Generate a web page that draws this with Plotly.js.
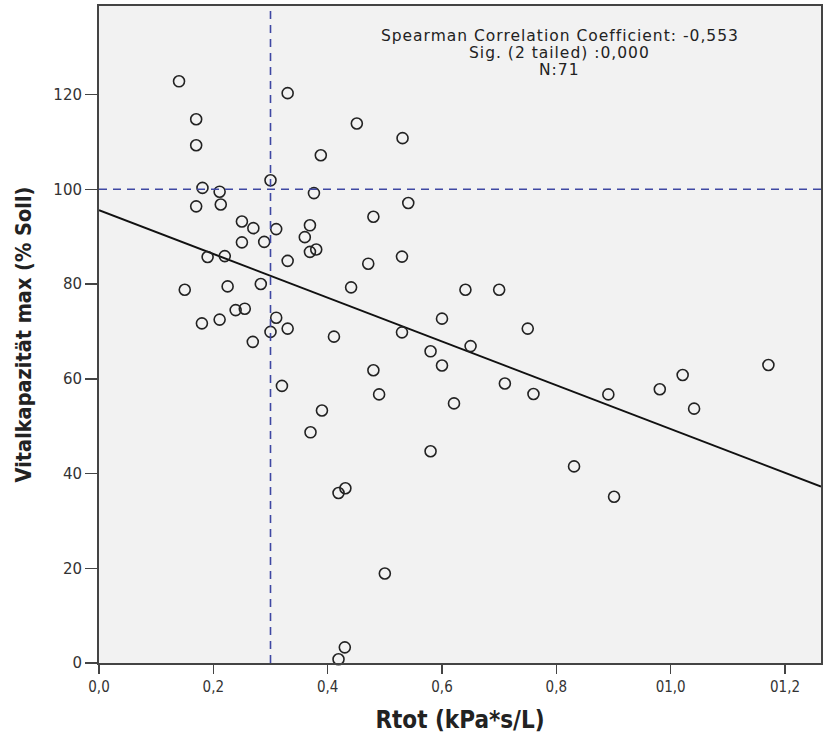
<!DOCTYPE html>
<html>
<head>
<meta charset="utf-8">
<script src="https://cdn.plot.ly/plotly-3.0.1.min.js"></script>
<style>
html,body{margin:0;padding:0;background:#fff;}
#chart{width:827px;height:742px;}
#chart .annotation-text{letter-spacing:1px;}
</style>
</head>
<body>
<div id="chart"></div>
<script>
// Rtot (kPa*s/L)
const rtot = [0.140,0.330,0.170,0.170,0.388,0.300,0.181,0.211,0.376,0.170,
  0.213,0.250,0.270,0.310,0.369,0.360,0.250,0.289,0.380,0.369,
  0.190,0.220,0.330,0.150,0.225,0.283,0.441,0.239,0.255,0.180,
  0.211,0.310,0.300,0.330,0.411,0.269,0.600,0.750,0.530,0.650,
  0.580,0.600,0.480,0.710,0.760,0.320,0.490,0.621,0.390,0.370,
  0.580,0.431,0.419,0.500,0.430,0.419,0.531,0.541,0.530,0.641,
  0.700,0.891,0.981,1.021,1.041,1.171,0.831,0.451,0.480,0.471,0.901];
// Vitalkapazität max (% Soll)
const vk = [122.8,120.3,114.8,109.3,107.2,101.9,100.3,99.5,99.2,96.4,
  96.8,93.2,91.8,91.6,92.4,89.9,88.8,88.9,87.3,86.8,
  85.7,85.9,84.9,78.8,79.5,80.0,79.3,74.5,74.8,71.7,
  72.5,72.9,69.9,70.6,68.9,67.8,72.7,70.6,69.8,66.9,
  65.8,62.8,61.8,59.0,56.8,58.5,56.7,54.8,53.3,48.7,
  44.7,36.9,35.9,18.9,3.3,0.8,110.8,97.1,85.8,78.8,
  78.8,56.7,57.8,60.8,53.7,62.9,41.5,113.9,94.2,84.3,35.1];

const fitIntercept = 95.6;
const fitSlope = -46.2;
const refX = 0.3;
const refY = 100;
const xRange = [0, 1.263];
const yRange = [0, 138.7];

const xTickVals = [0, 0.2, 0.4, 0.6, 0.8, 1.0, 1.2];
const xTickText = ["0,0", "0,2", "0,4", "0,6", "0,8", "01,0", "01,2"];
const yTickVals = [0, 20, 40, 60, 80, 100, 120];
const yTickText = ["0", "20", "40", "60", "80", "100", "120"];

const statLines = ["Spearman Correlation Coefficient: -0,553", "Sig. (2 tailed) :0,000", "N:71"];

const fitX = [xRange[0], xRange[1]];
const fitY = fitX.map(x => fitIntercept + fitSlope * x);

const traces = [
  {x: fitX, y: fitY, type: 'scatter', mode: 'lines',
   line: {color: '#111', width: 2}, hoverinfo: 'skip', showlegend: false},
  {x: rtot, y: vk, type: 'scatter', mode: 'markers', cliponaxis: false,
   marker: {symbol: 'circle-open', size: 11, color: '#222', line: {width: 1.6, color: '#222'}},
   showlegend: false}
];

const condensed = '"DejaVu Sans Condensed", "Liberation Sans Narrow", "DejaVu Sans", sans-serif';
const tickFontX = {family: condensed, size: 15, color: '#333'};
const tickFontY = {family: '"DejaVu Sans", sans-serif', size: 15, color: '#333'};
const titleFontX = {family: condensed, size: 24, color: '#222', weight: 'bold'};
const titleFontY = {family: condensed, size: 21.5, color: '#222', weight: 'bold'};

const annY = [0.9536, 0.928, 0.902];
const annotations = statLines.map((t, i) => ({
  text: t, xref: 'paper', yref: 'paper', x: 0.638, y: annY[i],
  xanchor: 'center', yanchor: 'middle', showarrow: false,
  font: {family: '"DejaVu Sans", sans-serif', size: 15.5, color: '#222'}
}));

const layout = {
  width: 827, height: 742,
  margin: {l: 99, r: 6, t: 5.5, b: 79, pad: 0},
  paper_bgcolor: '#ffffff', plot_bgcolor: '#f2f2f2',
  showlegend: false,
  xaxis: {range: xRange, tickvals: xTickVals, ticktext: xTickText,
    showgrid: false, zeroline: false, showline: true, mirror: true,
    linecolor: '#444', linewidth: 2, ticks: 'outside', ticklen: 9, tickwidth: 1.5, tickcolor: '#444',
    tickfont: tickFontX,
    title: {text: 'Rtot (kPa*s/L)', font: titleFontX, standoff: 16}},
  yaxis: {range: yRange, tickvals: yTickVals, ticktext: yTickText,
    showgrid: false, zeroline: false, showline: true, mirror: true,
    linecolor: '#444', linewidth: 2, ticks: 'outside', ticklen: 12, tickwidth: 1.5, tickcolor: '#444',
    tickfont: tickFontY,
    title: {text: 'Vitalkapazität max (% Soll)', font: titleFontY, standoff: 16}},
  shapes: [
    {type: 'line', xref: 'x', yref: 'paper', x0: refX, x1: refX, y0: 0, y1: 1,
     line: {color: '#3f48a3', width: 1.6, dash: '8px,6px'}},
    {type: 'line', xref: 'paper', yref: 'y', x0: 0, x1: 1, y0: refY, y1: refY,
     line: {color: '#3f48a3', width: 1.6, dash: '8px,6px'}}
  ],
  annotations: annotations
};

Plotly.newPlot('chart', traces, layout, {displayModeBar: false, staticPlot: true});
</script>
</body>
</html>
